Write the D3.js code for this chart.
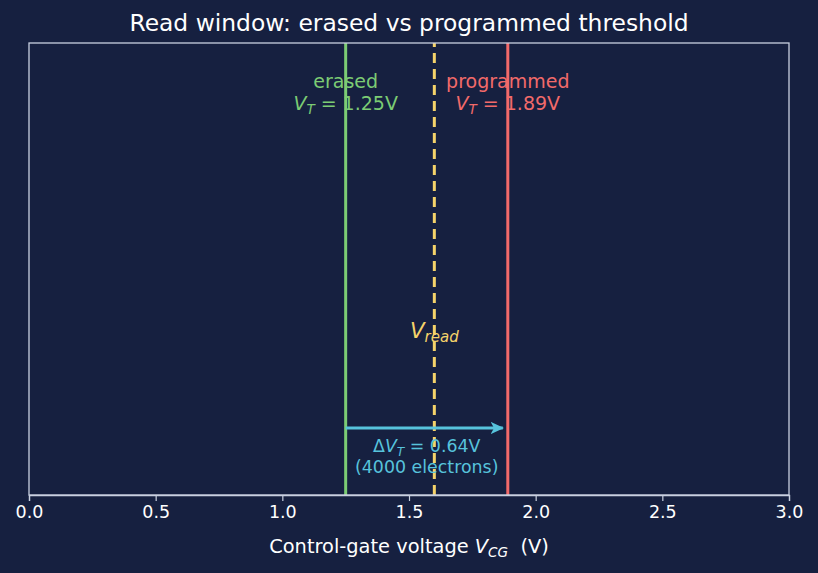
<!DOCTYPE html>
<html><head><meta charset="utf-8">
<script src="https://cdn.jsdelivr.net/npm/d3@7"></script>
<style>
html,body{margin:0;padding:0;background:#162040;}
svg{display:block;font-family:"DejaVu Sans",sans-serif;}
text{white-space:pre;}
</style></head>
<body>
<svg id="c" width="818" height="573"></svg>
<script>
const xTicks = [0.0, 0.5, 1.0, 1.5, 2.0, 2.5, 3.0];
const xTickLabels = ["0.0","0.5","1.0","1.5","2.0","2.5","3.0"];
const thresholdNames = ["erased", "programmed"];
const thresholdValues = [1.25, 1.89];
const thresholdColors = ["#7ccc74", "#f26a6a"];
const vRead = 1.6;
const deltaVT = 0.64;
const electrons = 4000;

const W = 818, H = 573;
const m = {l: 29, r: 29, t: 43, b: 78};
const svg = d3.select("#c");
svg.append("rect").attr("width", W).attr("height", H).attr("fill", "#162040");

const x = d3.scaleLinear().domain([0, 3]).range([m.l, W - m.r]);
const y = d3.scaleLinear().domain([0, 1]).range([H - m.b, m.t]);

const g = svg.append("g");

// vertical lines
thresholdValues.forEach((v, i) => {
  g.append("line").attr("x1", x(v)).attr("x2", x(v)).attr("y1", y(0)).attr("y2", y(1))
    .attr("stroke", thresholdColors[i]).attr("stroke-width", 3);
});
g.append("line").attr("x1", x(vRead)).attr("x2", x(vRead)).attr("y1", y(0)).attr("y2", y(1))
  .attr("stroke", "#f5d36a").attr("stroke-width", 3).attr("stroke-dasharray", "10,6");

// threshold labels
thresholdValues.forEach((v, i) => {
  g.append("text").attr("x", x(v)).attr("y", 88).attr("text-anchor", "middle")
    .attr("fill", thresholdColors[i]).attr("font-size", 19).text(thresholdNames[i]);
  const t2 = g.append("text").attr("x", x(v)).attr("y", 110).attr("text-anchor", "middle")
    .attr("fill", thresholdColors[i]).attr("font-size", 19);
  t2.append("tspan").attr("font-style", "italic").text("V");
  t2.append("tspan").attr("font-style", "italic").attr("font-size", 13.5).attr("dy", 4).text("T");
  t2.append("tspan").attr("dy", -4).text(" = " + v.toFixed(2) + "V");
});

// Vread label
const vr = g.append("text").attr("x", x(vRead)).attr("y", 338).attr("text-anchor", "middle")
  .attr("fill", "#f5d36a").attr("font-size", 21.4);
vr.append("tspan").attr("font-style", "italic").text("V");
vr.append("tspan").attr("font-style", "italic").attr("font-size", 15).attr("dy", 4).text("read");

// arrow
const defs = svg.append("defs");
defs.append("marker").attr("id", "ah").attr("viewBox", "0 0 10 10").attr("refX", 9).attr("refY", 5)
  .attr("markerWidth", 4.5).attr("markerHeight", 4.5).attr("orient", "auto").attr("markerUnits", "strokeWidth")
  .append("path").attr("d", "M0,0.5 L10,5 L0,9.5 L2.5,5 Z").attr("fill", "#57c3dc");
const ay = 428;
g.append("line").attr("x1", x(thresholdValues[0])).attr("x2", x(thresholdValues[0] + deltaVT) - 5)
  .attr("y1", ay).attr("y2", ay).attr("stroke", "#57c3dc").attr("stroke-width", 3)
  .attr("marker-end", "url(#ah)");
const mid = x((thresholdValues[0] + thresholdValues[1]) / 2);
const dt = g.append("text").attr("x", mid).attr("y", 452).attr("text-anchor", "middle")
  .attr("fill", "#57c3dc").attr("font-size", 17.4);
dt.append("tspan").text("Δ");
dt.append("tspan").attr("font-style", "italic").text("V");
dt.append("tspan").attr("font-style", "italic").attr("font-size", 12.2).attr("dy", 3.5).text("T");
dt.append("tspan").attr("dy", -3.5).text(" = " + deltaVT.toFixed(2) + "V");
g.append("text").attr("x", mid).attr("y", 473).attr("text-anchor", "middle")
  .attr("fill", "#57c3dc").attr("font-size", 17.4).text("(" + electrons + " electrons)");

// frame
svg.append("rect").attr("x", m.l).attr("y", m.t).attr("width", W - m.l - m.r).attr("height", H - m.t - m.b)
  .attr("fill", "none").attr("stroke", "#c9d0e0").attr("stroke-width", 1.3);

// x axis
const ax = svg.append("g").attr("transform", `translate(0,${H - m.b})`)
  .call(d3.axisBottom(x).tickValues(xTicks).tickFormat((d, i) => xTickLabels[i]).tickSize(6).tickPadding(5));
ax.select(".domain").attr("stroke", "#c9d0e0").attr("stroke-width", 1.3);
ax.selectAll(".tick line").attr("stroke", "#c9d0e0").attr("stroke-width", 1.2);
ax.selectAll(".tick text").attr("fill", "#ffffff").attr("font-size", 17.5).attr("font-family", "DejaVu Sans");

// axis label
const xl = svg.append("text").attr("x", x(1.5)).attr("y", 553).attr("text-anchor", "middle")
  .attr("fill", "#ffffff").attr("font-size", 19.4);
xl.append("tspan").text("Control-gate voltage ");
xl.append("tspan").attr("font-style", "italic").text("V");
xl.append("tspan").attr("font-style", "italic").attr("font-size", 13.6).attr("dy", 3.5).text("CG");
xl.append("tspan").attr("dy", -3.5).text("  (V)");

// title
svg.append("text").attr("x", x(1.5)).attr("y", 31).attr("text-anchor", "middle")
  .attr("fill", "#ffffff").attr("font-size", 23.4).text("Read window: erased vs programmed threshold");
</script>
</body></html>
